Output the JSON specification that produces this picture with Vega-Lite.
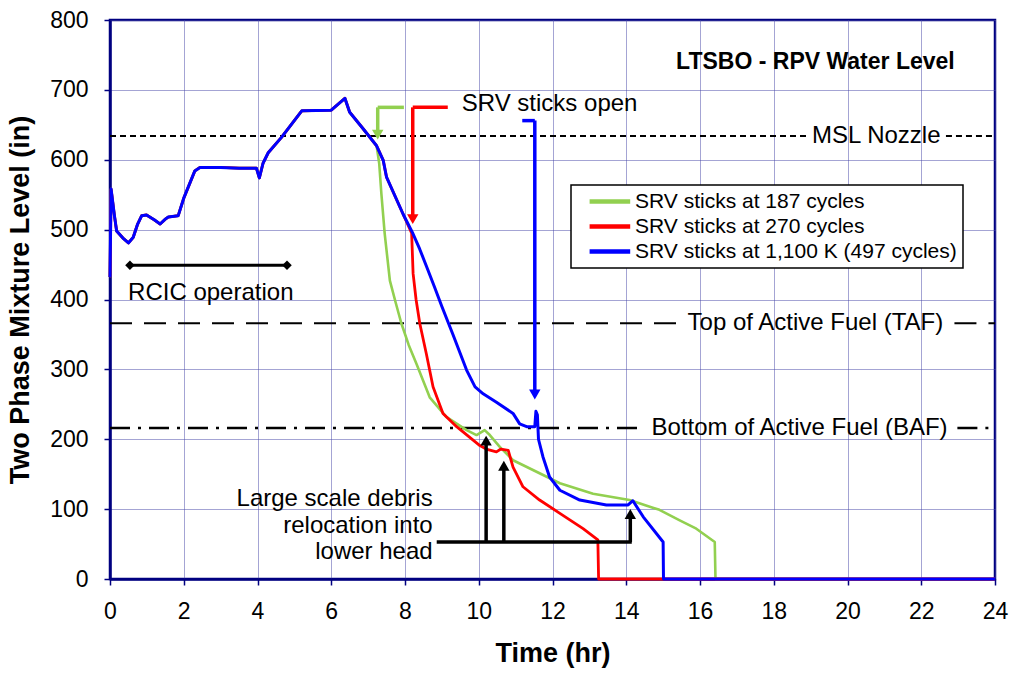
{
  "$schema": "https://vega.github.io/schema/vega-lite/v6.json",
  "width": 885,
  "height": 559,
  "autosize": {"type": "none"},
  "padding": {"left": 110, "top": 20, "right": 17, "bottom": 94},
  "background": "white",
  "config": {
    "font": "Liberation Sans",
    "view": {"stroke": "#000080", "strokeWidth": 2.5},
    "axis": {
      "grid": true,
      "gridColor": "#4848A8",
      "gridDash": [1, 1],
      "gridWidth": 1,
      "domainColor": "#000080",
      "domainWidth": 2.5,
      "tickColor": "#000080",
      "tickSize": 6,
      "tickWidth": 1.5,
      "labelFlush": false,
      "labelFont": "Liberation Sans",
      "labelFontSize": 23,
      "labelColor": "black",
      "titleFont": "Liberation Sans",
      "titleFontSize": 27,
      "titleFontWeight": "bold",
      "titleColor": "black"
    },
    "legend": {
      "orient": "none",
      "legendX": 461,
      "legendY": 165,
      "fillColor": "white",
      "strokeColor": "black",
      "strokeWidth": 1.5,
      "padding": 6,
      "labelFont": "Liberation Sans",
      "labelFontSize": 21,
      "labelColor": "black",
      "labelLimit": 500,
      "symbolType": "M0.3,0H6.1",
      "symbolSize": 196,
      "symbolStrokeWidth": 4.5,
      "labelOffset": 37,
      "rowPadding": 3
    }
  },
  "datasets": {
    "main": [
      {"s": "SRV sticks at 187 cycles", "t": 0, "v": 432},
      {"s": "SRV sticks at 187 cycles", "t": 0.03, "v": 558},
      {"s": "SRV sticks at 187 cycles", "t": 0.12, "v": 520},
      {"s": "SRV sticks at 187 cycles", "t": 0.18, "v": 498},
      {"s": "SRV sticks at 187 cycles", "t": 0.35, "v": 488},
      {"s": "SRV sticks at 187 cycles", "t": 0.5, "v": 481},
      {"s": "SRV sticks at 187 cycles", "t": 0.63, "v": 489},
      {"s": "SRV sticks at 187 cycles", "t": 0.75, "v": 508},
      {"s": "SRV sticks at 187 cycles", "t": 0.86, "v": 520},
      {"s": "SRV sticks at 187 cycles", "t": 0.99, "v": 521},
      {"s": "SRV sticks at 187 cycles", "t": 1.2, "v": 514},
      {"s": "SRV sticks at 187 cycles", "t": 1.36, "v": 508},
      {"s": "SRV sticks at 187 cycles", "t": 1.5, "v": 515},
      {"s": "SRV sticks at 187 cycles", "t": 1.58, "v": 518},
      {"s": "SRV sticks at 187 cycles", "t": 1.85, "v": 520},
      {"s": "SRV sticks at 187 cycles", "t": 2.0, "v": 545},
      {"s": "SRV sticks at 187 cycles", "t": 2.3, "v": 584},
      {"s": "SRV sticks at 187 cycles", "t": 2.44, "v": 589},
      {"s": "SRV sticks at 187 cycles", "t": 3.0, "v": 589},
      {"s": "SRV sticks at 187 cycles", "t": 3.5, "v": 588},
      {"s": "SRV sticks at 187 cycles", "t": 3.97, "v": 588},
      {"s": "SRV sticks at 187 cycles", "t": 4.05, "v": 574},
      {"s": "SRV sticks at 187 cycles", "t": 4.15, "v": 595},
      {"s": "SRV sticks at 187 cycles", "t": 4.29, "v": 610},
      {"s": "SRV sticks at 187 cycles", "t": 4.65, "v": 632},
      {"s": "SRV sticks at 187 cycles", "t": 5.2, "v": 670},
      {"s": "SRV sticks at 187 cycles", "t": 6.0, "v": 671},
      {"s": "SRV sticks at 187 cycles", "t": 6.37, "v": 688},
      {"s": "SRV sticks at 187 cycles", "t": 6.5, "v": 668},
      {"s": "SRV sticks at 187 cycles", "t": 6.87, "v": 644},
      {"s": "SRV sticks at 187 cycles", "t": 7.23, "v": 620},
      {"s": "SRV sticks at 187 cycles", "t": 7.3, "v": 595},
      {"s": "SRV sticks at 187 cycles", "t": 7.36, "v": 551},
      {"s": "SRV sticks at 187 cycles", "t": 7.45, "v": 494},
      {"s": "SRV sticks at 187 cycles", "t": 7.59, "v": 427},
      {"s": "SRV sticks at 187 cycles", "t": 7.75, "v": 395},
      {"s": "SRV sticks at 187 cycles", "t": 7.9, "v": 366},
      {"s": "SRV sticks at 187 cycles", "t": 8.1, "v": 335},
      {"s": "SRV sticks at 187 cycles", "t": 8.31, "v": 308},
      {"s": "SRV sticks at 187 cycles", "t": 8.67, "v": 260},
      {"s": "SRV sticks at 187 cycles", "t": 9.12, "v": 232},
      {"s": "SRV sticks at 187 cycles", "t": 9.67, "v": 213},
      {"s": "SRV sticks at 187 cycles", "t": 9.94, "v": 206},
      {"s": "SRV sticks at 187 cycles", "t": 10.16, "v": 213},
      {"s": "SRV sticks at 187 cycles", "t": 10.3, "v": 206},
      {"s": "SRV sticks at 187 cycles", "t": 10.57, "v": 189},
      {"s": "SRV sticks at 187 cycles", "t": 10.93, "v": 170},
      {"s": "SRV sticks at 187 cycles", "t": 11.47, "v": 156},
      {"s": "SRV sticks at 187 cycles", "t": 12.2, "v": 137},
      {"s": "SRV sticks at 187 cycles", "t": 13.1, "v": 122},
      {"s": "SRV sticks at 187 cycles", "t": 14.09, "v": 113},
      {"s": "SRV sticks at 187 cycles", "t": 14.72, "v": 102},
      {"s": "SRV sticks at 187 cycles", "t": 14.9, "v": 99},
      {"s": "SRV sticks at 187 cycles", "t": 15.45, "v": 84},
      {"s": "SRV sticks at 187 cycles", "t": 15.9, "v": 72},
      {"s": "SRV sticks at 187 cycles", "t": 16.4, "v": 53},
      {"s": "SRV sticks at 187 cycles", "t": 16.42, "v": 0},
      {"s": "SRV sticks at 187 cycles", "t": 24, "v": 0},

      {"s": "SRV sticks at 270 cycles", "t": 0, "v": 432},
      {"s": "SRV sticks at 270 cycles", "t": 0.03, "v": 558},
      {"s": "SRV sticks at 270 cycles", "t": 0.12, "v": 520},
      {"s": "SRV sticks at 270 cycles", "t": 0.18, "v": 498},
      {"s": "SRV sticks at 270 cycles", "t": 0.35, "v": 488},
      {"s": "SRV sticks at 270 cycles", "t": 0.5, "v": 481},
      {"s": "SRV sticks at 270 cycles", "t": 0.63, "v": 489},
      {"s": "SRV sticks at 270 cycles", "t": 0.75, "v": 508},
      {"s": "SRV sticks at 270 cycles", "t": 0.86, "v": 520},
      {"s": "SRV sticks at 270 cycles", "t": 0.99, "v": 521},
      {"s": "SRV sticks at 270 cycles", "t": 1.2, "v": 514},
      {"s": "SRV sticks at 270 cycles", "t": 1.36, "v": 508},
      {"s": "SRV sticks at 270 cycles", "t": 1.5, "v": 515},
      {"s": "SRV sticks at 270 cycles", "t": 1.58, "v": 518},
      {"s": "SRV sticks at 270 cycles", "t": 1.85, "v": 520},
      {"s": "SRV sticks at 270 cycles", "t": 2.0, "v": 545},
      {"s": "SRV sticks at 270 cycles", "t": 2.3, "v": 584},
      {"s": "SRV sticks at 270 cycles", "t": 2.44, "v": 589},
      {"s": "SRV sticks at 270 cycles", "t": 3.0, "v": 589},
      {"s": "SRV sticks at 270 cycles", "t": 3.5, "v": 588},
      {"s": "SRV sticks at 270 cycles", "t": 3.97, "v": 588},
      {"s": "SRV sticks at 270 cycles", "t": 4.05, "v": 574},
      {"s": "SRV sticks at 270 cycles", "t": 4.15, "v": 595},
      {"s": "SRV sticks at 270 cycles", "t": 4.29, "v": 610},
      {"s": "SRV sticks at 270 cycles", "t": 4.65, "v": 632},
      {"s": "SRV sticks at 270 cycles", "t": 5.2, "v": 670},
      {"s": "SRV sticks at 270 cycles", "t": 6.0, "v": 671},
      {"s": "SRV sticks at 270 cycles", "t": 6.37, "v": 688},
      {"s": "SRV sticks at 270 cycles", "t": 6.5, "v": 668},
      {"s": "SRV sticks at 270 cycles", "t": 6.87, "v": 644},
      {"s": "SRV sticks at 270 cycles", "t": 7.23, "v": 620},
      {"s": "SRV sticks at 270 cycles", "t": 7.41, "v": 599},
      {"s": "SRV sticks at 270 cycles", "t": 7.5, "v": 575},
      {"s": "SRV sticks at 270 cycles", "t": 7.95, "v": 522},
      {"s": "SRV sticks at 270 cycles", "t": 8.18, "v": 495},
      {"s": "SRV sticks at 270 cycles", "t": 8.22, "v": 437},
      {"s": "SRV sticks at 270 cycles", "t": 8.3, "v": 400},
      {"s": "SRV sticks at 270 cycles", "t": 8.4, "v": 366},
      {"s": "SRV sticks at 270 cycles", "t": 8.58, "v": 322},
      {"s": "SRV sticks at 270 cycles", "t": 8.76, "v": 275},
      {"s": "SRV sticks at 270 cycles", "t": 9.03, "v": 237},
      {"s": "SRV sticks at 270 cycles", "t": 9.4, "v": 218},
      {"s": "SRV sticks at 270 cycles", "t": 10.03, "v": 191},
      {"s": "SRV sticks at 270 cycles", "t": 10.2, "v": 186},
      {"s": "SRV sticks at 270 cycles", "t": 10.48, "v": 182},
      {"s": "SRV sticks at 270 cycles", "t": 10.6, "v": 186},
      {"s": "SRV sticks at 270 cycles", "t": 10.8, "v": 184},
      {"s": "SRV sticks at 270 cycles", "t": 10.93, "v": 160},
      {"s": "SRV sticks at 270 cycles", "t": 11.2, "v": 132},
      {"s": "SRV sticks at 270 cycles", "t": 11.65, "v": 113},
      {"s": "SRV sticks at 270 cycles", "t": 12.2, "v": 94},
      {"s": "SRV sticks at 270 cycles", "t": 12.83, "v": 72},
      {"s": "SRV sticks at 270 cycles", "t": 13.23, "v": 56},
      {"s": "SRV sticks at 270 cycles", "t": 13.25, "v": 0},
      {"s": "SRV sticks at 270 cycles", "t": 24, "v": 0},

      {"s": "SRV sticks at 1,100 K (497 cycles)", "t": 0, "v": 432},
      {"s": "SRV sticks at 1,100 K (497 cycles)", "t": 0.03, "v": 558},
      {"s": "SRV sticks at 1,100 K (497 cycles)", "t": 0.12, "v": 520},
      {"s": "SRV sticks at 1,100 K (497 cycles)", "t": 0.18, "v": 498},
      {"s": "SRV sticks at 1,100 K (497 cycles)", "t": 0.35, "v": 488},
      {"s": "SRV sticks at 1,100 K (497 cycles)", "t": 0.5, "v": 481},
      {"s": "SRV sticks at 1,100 K (497 cycles)", "t": 0.63, "v": 489},
      {"s": "SRV sticks at 1,100 K (497 cycles)", "t": 0.75, "v": 508},
      {"s": "SRV sticks at 1,100 K (497 cycles)", "t": 0.86, "v": 520},
      {"s": "SRV sticks at 1,100 K (497 cycles)", "t": 0.99, "v": 521},
      {"s": "SRV sticks at 1,100 K (497 cycles)", "t": 1.2, "v": 514},
      {"s": "SRV sticks at 1,100 K (497 cycles)", "t": 1.36, "v": 508},
      {"s": "SRV sticks at 1,100 K (497 cycles)", "t": 1.5, "v": 515},
      {"s": "SRV sticks at 1,100 K (497 cycles)", "t": 1.58, "v": 518},
      {"s": "SRV sticks at 1,100 K (497 cycles)", "t": 1.85, "v": 520},
      {"s": "SRV sticks at 1,100 K (497 cycles)", "t": 2.0, "v": 545},
      {"s": "SRV sticks at 1,100 K (497 cycles)", "t": 2.3, "v": 584},
      {"s": "SRV sticks at 1,100 K (497 cycles)", "t": 2.44, "v": 589},
      {"s": "SRV sticks at 1,100 K (497 cycles)", "t": 3.0, "v": 589},
      {"s": "SRV sticks at 1,100 K (497 cycles)", "t": 3.5, "v": 588},
      {"s": "SRV sticks at 1,100 K (497 cycles)", "t": 3.97, "v": 588},
      {"s": "SRV sticks at 1,100 K (497 cycles)", "t": 4.05, "v": 574},
      {"s": "SRV sticks at 1,100 K (497 cycles)", "t": 4.15, "v": 595},
      {"s": "SRV sticks at 1,100 K (497 cycles)", "t": 4.29, "v": 610},
      {"s": "SRV sticks at 1,100 K (497 cycles)", "t": 4.65, "v": 632},
      {"s": "SRV sticks at 1,100 K (497 cycles)", "t": 5.2, "v": 670},
      {"s": "SRV sticks at 1,100 K (497 cycles)", "t": 6.0, "v": 671},
      {"s": "SRV sticks at 1,100 K (497 cycles)", "t": 6.37, "v": 688},
      {"s": "SRV sticks at 1,100 K (497 cycles)", "t": 6.5, "v": 668},
      {"s": "SRV sticks at 1,100 K (497 cycles)", "t": 6.87, "v": 644},
      {"s": "SRV sticks at 1,100 K (497 cycles)", "t": 7.23, "v": 620},
      {"s": "SRV sticks at 1,100 K (497 cycles)", "t": 7.41, "v": 599},
      {"s": "SRV sticks at 1,100 K (497 cycles)", "t": 7.5, "v": 575},
      {"s": "SRV sticks at 1,100 K (497 cycles)", "t": 7.95, "v": 522},
      {"s": "SRV sticks at 1,100 K (497 cycles)", "t": 8.2, "v": 496},
      {"s": "SRV sticks at 1,100 K (497 cycles)", "t": 8.4, "v": 472},
      {"s": "SRV sticks at 1,100 K (497 cycles)", "t": 8.6, "v": 445},
      {"s": "SRV sticks at 1,100 K (497 cycles)", "t": 8.8, "v": 418},
      {"s": "SRV sticks at 1,100 K (497 cycles)", "t": 9.0, "v": 390},
      {"s": "SRV sticks at 1,100 K (497 cycles)", "t": 9.3, "v": 350},
      {"s": "SRV sticks at 1,100 K (497 cycles)", "t": 9.67, "v": 299},
      {"s": "SRV sticks at 1,100 K (497 cycles)", "t": 9.9, "v": 275},
      {"s": "SRV sticks at 1,100 K (497 cycles)", "t": 10.12, "v": 265},
      {"s": "SRV sticks at 1,100 K (497 cycles)", "t": 10.48, "v": 253},
      {"s": "SRV sticks at 1,100 K (497 cycles)", "t": 10.93, "v": 237},
      {"s": "SRV sticks at 1,100 K (497 cycles)", "t": 11.11, "v": 222},
      {"s": "SRV sticks at 1,100 K (497 cycles)", "t": 11.3, "v": 218},
      {"s": "SRV sticks at 1,100 K (497 cycles)", "t": 11.52, "v": 218},
      {"s": "SRV sticks at 1,100 K (497 cycles)", "t": 11.55, "v": 240},
      {"s": "SRV sticks at 1,100 K (497 cycles)", "t": 11.59, "v": 235},
      {"s": "SRV sticks at 1,100 K (497 cycles)", "t": 11.62, "v": 200},
      {"s": "SRV sticks at 1,100 K (497 cycles)", "t": 11.74, "v": 175},
      {"s": "SRV sticks at 1,100 K (497 cycles)", "t": 11.92, "v": 146},
      {"s": "SRV sticks at 1,100 K (497 cycles)", "t": 12.2, "v": 127},
      {"s": "SRV sticks at 1,100 K (497 cycles)", "t": 12.74, "v": 113},
      {"s": "SRV sticks at 1,100 K (497 cycles)", "t": 13.46, "v": 106},
      {"s": "SRV sticks at 1,100 K (497 cycles)", "t": 14.05, "v": 106},
      {"s": "SRV sticks at 1,100 K (497 cycles)", "t": 14.18, "v": 112},
      {"s": "SRV sticks at 1,100 K (497 cycles)", "t": 14.46, "v": 89},
      {"s": "SRV sticks at 1,100 K (497 cycles)", "t": 15.0, "v": 53},
      {"s": "SRV sticks at 1,100 K (497 cycles)", "t": 15.01, "v": 0},
      {"s": "SRV sticks at 1,100 K (497 cycles)", "t": 24, "v": 0}
    ],
    "refs": [
      {"name": "MSL", "t": 0, "t2": 18.88, "v": 634},
      {"name": "MSL", "t": 22.67, "t2": 24, "v": 634},
      {"name": "TAF", "t": 0, "t2": 15.36, "v": 366},
      {"name": "TAF", "t": 22.9, "t2": 24, "v": 366},
      {"name": "BAF", "t": 0, "t2": 14.41, "v": 216},
      {"name": "BAF", "t": 22.98, "t2": 24, "v": 216}
    ],
    "refLabels": [
      {"txt": "MSL Nozzle", "t": 20.78, "v": 634},
      {"txt": "Top of Active Fuel (TAF)", "t": 19.13, "v": 366},
      {"txt": "Bottom of Active Fuel (BAF)", "t": 18.7, "v": 216}
    ],
    "leftLabels": [
      {"txt": "SRV sticks open", "t": 9.54, "v": 680},
      {"txt": "RCIC operation", "t": 0.49, "v": 409}
    ],
    "rightLabels": [
      {"txt": "Large scale debris", "t": 8.75, "v": 114},
      {"txt": "relocation into", "t": 8.75, "v": 76},
      {"txt": "lower head", "t": 8.75, "v": 39}
    ],
    "srvArrows": [
      {"s": "SRV sticks at 187 cycles", "t": 7.97, "t2": 7.26, "v": 675, "v2": 675},
      {"s": "SRV sticks at 187 cycles", "t": 7.26, "t2": 7.26, "v": 675, "v2": 640},
      {"s": "SRV sticks at 270 cycles", "t": 9.16, "t2": 8.21, "v": 675, "v2": 675},
      {"s": "SRV sticks at 270 cycles", "t": 8.21, "t2": 8.21, "v": 675, "v2": 520},
      {"s": "SRV sticks at 1,100 K (497 cycles)", "t": 11.18, "t2": 11.52, "v": 656, "v2": 656},
      {"s": "SRV sticks at 1,100 K (497 cycles)", "t": 11.52, "t2": 11.52, "v": 656, "v2": 268}
    ],
    "srvHeads": [
      {"s": "SRV sticks at 187 cycles", "t": 7.26, "v": 636},
      {"s": "SRV sticks at 270 cycles", "t": 8.21, "v": 515},
      {"s": "SRV sticks at 1,100 K (497 cycles)", "t": 11.52, "v": 264}
    ],
    "debris": [
      {"t": 8.86, "t2": 14.15, "v": 53, "v2": 53},
      {"t": 10.2, "t2": 10.2, "v": 53, "v2": 197},
      {"t": 10.68, "t2": 10.68, "v": 53, "v2": 161},
      {"t": 14.11, "t2": 14.11, "v": 53, "v2": 92}
    ],
    "debrisHeads": [
      {"t": 10.2, "v": 198},
      {"t": 10.68, "v": 162},
      {"t": 14.11, "v": 93}
    ],
    "rcic": [
      {"t": 0.54, "t2": 4.8, "v": 449}
    ],
    "rcicEnds": [
      {"t": 0.54, "v": 449},
      {"t": 4.8, "v": 449}
    ],
    "title": [
      {"txt": "LTSBO - RPV Water Level", "t": 19.13, "v": 740}
    ]
  },
  "layer": [
    {
      "data": {"name": "refs"},
      "mark": {"type": "rule", "color": "black"},
      "encoding": {
        "x": {"field": "t", "type": "quantitative", "scale": {"domain": [0, 24], "nice": false},
          "axis": {"title": "Time (hr)", "values": [0, 2, 4, 6, 8, 10, 12, 14, 16, 18, 20, 22, 24], "labelPadding": 15, "titlePadding": 17}},
        "x2": {"field": "t2"},
        "y": {"field": "v", "type": "quantitative", "scale": {"domain": [0, 800], "nice": false},
          "axis": {"title": "Two Phase Mixture Level (in)", "values": [0, 100, 200, 300, 400, 500, 600, 700, 800], "labelPadding": 16, "titlePadding": 15}},
        "strokeDash": {"field": "name", "type": "nominal", "scale": {"domain": ["MSL", "TAF", "BAF"], "range": [[6, 4], [22, 12], [20, 8, 3, 8]]}, "legend": null},
        "strokeWidth": {"field": "name", "type": "nominal", "scale": {"domain": ["MSL", "TAF", "BAF"], "range": [2, 3, 2.5]}, "legend": null}
      }
    },
    {
      "data": {"name": "refLabels"},
      "mark": {"type": "text", "fontSize": 24, "color": "black", "align": "center", "baseline": "middle"},
      "encoding": {
        "x": {"field": "t", "type": "quantitative"},
        "y": {"field": "v", "type": "quantitative"},
        "text": {"field": "txt"}
      }
    },
    {
      "data": {"name": "leftLabels"},
      "mark": {"type": "text", "fontSize": 24, "color": "black", "align": "left", "baseline": "middle"},
      "encoding": {
        "x": {"field": "t", "type": "quantitative"},
        "y": {"field": "v", "type": "quantitative"},
        "text": {"field": "txt"}
      }
    },
    {
      "data": {"name": "rightLabels"},
      "mark": {"type": "text", "fontSize": 24, "color": "black", "align": "right", "baseline": "middle"},
      "encoding": {
        "x": {"field": "t", "type": "quantitative"},
        "y": {"field": "v", "type": "quantitative"},
        "text": {"field": "txt"}
      }
    },
    {
      "data": {"name": "title"},
      "mark": {"type": "text", "fontSize": 23, "fontWeight": "bold", "color": "black", "align": "center", "baseline": "middle"},
      "encoding": {
        "x": {"field": "t", "type": "quantitative"},
        "y": {"field": "v", "type": "quantitative"},
        "text": {"field": "txt"}
      }
    },
    {
      "data": {"name": "rcic"},
      "mark": {"type": "rule", "color": "black", "strokeWidth": 3},
      "encoding": {
        "x": {"field": "t", "type": "quantitative"},
        "x2": {"field": "t2"},
        "y": {"field": "v", "type": "quantitative"}
      }
    },
    {
      "data": {"name": "rcicEnds"},
      "mark": {"type": "point", "shape": "diamond", "filled": true, "color": "black", "size": 90, "opacity": 1},
      "encoding": {
        "x": {"field": "t", "type": "quantitative"},
        "y": {"field": "v", "type": "quantitative"}
      }
    },
    {
      "data": {"name": "main"},
      "mark": {"type": "line", "strokeJoin": "round", "strokeCap": "butt"},
      "encoding": {
        "x": {"field": "t", "type": "quantitative"},
        "y": {"field": "v", "type": "quantitative"},
        "color": {"field": "s", "type": "nominal", "title": null,
          "scale": {"domain": ["SRV sticks at 187 cycles", "SRV sticks at 270 cycles", "SRV sticks at 1,100 K (497 cycles)"], "range": ["#92D050", "#FF0000", "#0000FF"]}},
        "strokeWidth": {"field": "s", "type": "nominal", "legend": null,
          "scale": {"domain": ["SRV sticks at 187 cycles", "SRV sticks at 270 cycles", "SRV sticks at 1,100 K (497 cycles)"], "range": [3.5, 4, 5]}}
      }
    },
    {
      "data": {"name": "srvArrows"},
      "mark": {"type": "rule", "strokeWidth": 3.5},
      "encoding": {
        "x": {"field": "t", "type": "quantitative"},
        "x2": {"field": "t2"},
        "y": {"field": "v", "type": "quantitative"},
        "y2": {"field": "v2"},
        "color": {"field": "s", "type": "nominal"}
      }
    },
    {
      "data": {"name": "srvHeads"},
      "mark": {"type": "point", "shape": "triangle-down", "filled": true, "size": 130, "opacity": 1},
      "encoding": {
        "x": {"field": "t", "type": "quantitative"},
        "y": {"field": "v", "type": "quantitative"},
        "color": {"field": "s", "type": "nominal"}
      }
    },
    {
      "data": {"name": "debris"},
      "mark": {"type": "rule", "color": "black", "strokeWidth": 3.5},
      "encoding": {
        "x": {"field": "t", "type": "quantitative"},
        "x2": {"field": "t2"},
        "y": {"field": "v", "type": "quantitative"},
        "y2": {"field": "v2"}
      }
    },
    {
      "data": {"name": "debrisHeads"},
      "mark": {"type": "point", "shape": "triangle-up", "filled": true, "color": "black", "size": 130, "opacity": 1},
      "encoding": {
        "x": {"field": "t", "type": "quantitative"},
        "y": {"field": "v", "type": "quantitative"}
      }
    }
  ]
}
